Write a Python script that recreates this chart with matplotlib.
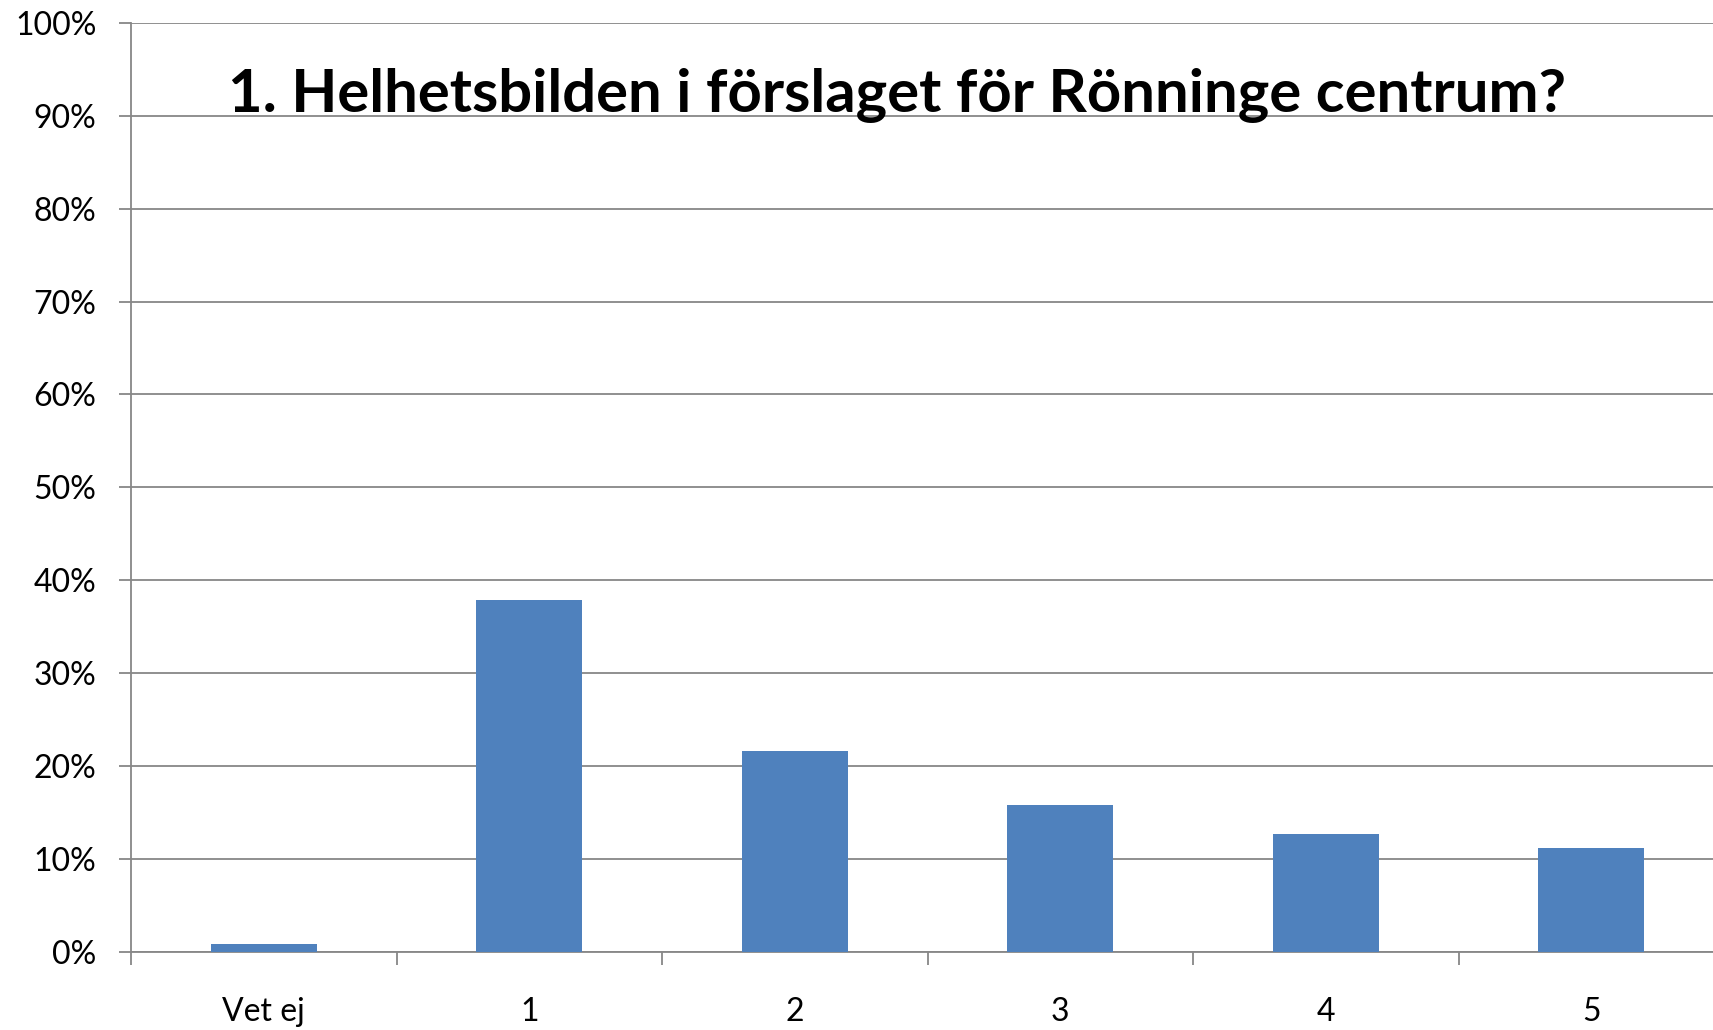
import matplotlib
matplotlib.use("Agg")
import matplotlib.pyplot as plt
from matplotlib.ticker import MultipleLocator, FuncFormatter

categories = ["Vet ej", "1", "2", "3", "4", "5"]
values = [0.8, 37.9, 21.6, 15.8, 12.7, 11.1]
title = "1. Helhetsbilden i förslaget för Rönninge centrum?"

W, H = 1713, 1030
fig = plt.figure(figsize=(W / 100, H / 100), dpi=100)
plt.rcParams['font.family'] = ['Lato', 'DejaVu Sans']

# axes position in pixels
left, right = 131, 131 + 6 * 265.5
bottom, top = H - 951.5, H - 23
ax = fig.add_axes([left / W, bottom / H, (right - left) / W, (top - bottom) / H])

grey = "#878787"
x = list(range(len(categories)))
ax.bar(x, values, width=0.40, color="#4F81BD", zorder=3)

ax.set_xlim(-0.5, len(categories) - 0.5)
ax.set_ylim(0, 100)
ax.yaxis.set_major_locator(MultipleLocator(10))
ax.yaxis.set_major_formatter(FuncFormatter(lambda v, p: f"{int(round(v))}%"))
ax.grid(axis="y", color=grey, linewidth=1.3, zorder=0)
ax.set_axisbelow(True)

ax.set_xticks(x)
ax.set_xticklabels(categories)
ax.set_xticks([i + 0.5 for i in range(-1, len(categories))], minor=True)
ax.tick_params(axis="x", which="major", length=0, pad=33, labelsize=23)
ax.tick_params(axis="x", which="minor", length=9, width=1.3, color=grey, direction="out")
ax.tick_params(axis="y", length=9, width=1.3, color=grey, direction="out", pad=16, labelsize=23)

for s in ["top", "right"]:
    ax.spines[s].set_visible(False)
for s in ["left", "bottom"]:
    ax.spines[s].set_color(grey)
    ax.spines[s].set_linewidth(1.3)

fig.text(897 / W, 1 - 112 / H, title, ha="center", va="baseline",
         fontsize=43, fontweight="bold", color="black")

fig.savefig("out.png", dpi=100)
